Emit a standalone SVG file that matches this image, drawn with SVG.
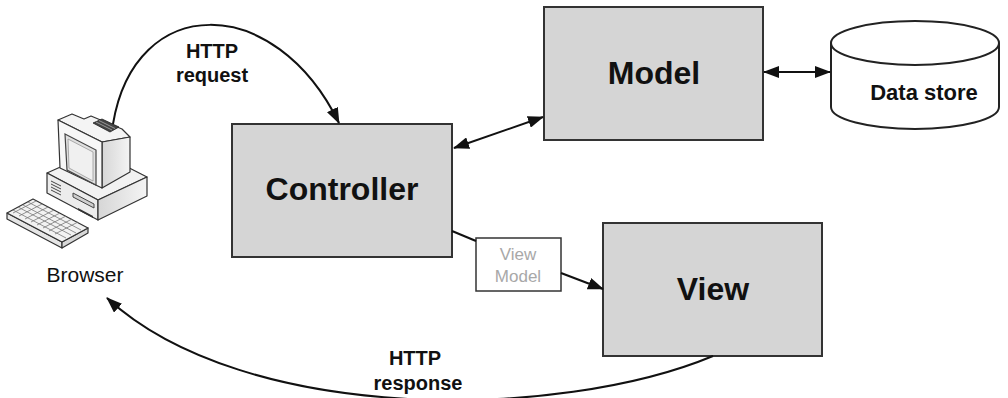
<svg xmlns="http://www.w3.org/2000/svg" width="1008" height="398" viewBox="0 0 1008 398">
  <defs>
    <style>
      .box { fill: #d5d5d5; stroke: #333; stroke-width: 2; }
      .label { font-family: "Liberation Sans", Arial, sans-serif; font-weight: bold; fill: #111; text-anchor: middle; }
      .big { font-size: 32px; }
      .mid { font-size: 20px; }
      .conn { fill: none; stroke: #111; stroke-width: 2; }
      .pc { stroke: #333; stroke-width: 1.2; stroke-linejoin: round; }
    </style>
    <marker id="arrow" viewBox="0 0 16 12" refX="15" refY="6" markerWidth="16" markerHeight="12" markerUnits="userSpaceOnUse" orient="auto-start-reverse">
      <path d="M0,0 L16,6 L0,12 z" fill="#111"/>
    </marker>
    <linearGradient id="side" x1="0" y1="0" x2="1" y2="0">
      <stop offset="0" stop-color="#d6d6d6"/>
      <stop offset="1" stop-color="#f4f4f4"/>
    </linearGradient>
  </defs>

  <rect width="1008" height="398" fill="#ffffff"/>

  <!-- Browser: desktop computer icon -->
  <g id="browser">
    <!-- system case -->
    <polygon class="pc" points="47,173 96,151 147,177 98,200" fill="#f2f2f2"/>
    <polygon class="pc" points="47,173 98,200 98,220 47,193" fill="#ececec"/>
    <polygon class="pc" points="98,200 147,177 147,196 98,220" fill="url(#side)"/>
    <g stroke="#444" stroke-width="1">
      <line x1="51" y1="181" x2="61" y2="186"/>
      <line x1="51" y1="184" x2="61" y2="189"/>
      <line x1="51" y1="187" x2="61" y2="192"/>
      <line x1="51" y1="190" x2="61" y2="195"/>
    </g>
    <polygon points="73,193 94,204 94,208 73,197" fill="#cfcfcf" stroke="#444" stroke-width="1"/>
    <polygon points="78,208 93,216 93,218 78,210" fill="#333"/>
    <!-- monitor -->
    <polygon class="pc" points="58,120 72,114 84,119 91,116 122,129 130,137 102,142" fill="#f4f4f4"/>
    <polygon class="pc" points="102,142 130,137 130,172 102,188" fill="url(#side)"/>
    <polygon class="pc" points="58,120 102,142 102,188 60,168" fill="#f7f7f7"/>
    <polygon points="65,134 96,150 96,185 67,170" fill="#e0e0e0" stroke="#444" stroke-width="1.2"/>
    <polygon points="68,139 93,152 93,181 69,168" fill="#f0f0f0" stroke="#999" stroke-width="0.8"/>
    <!-- top vent -->
    <polygon points="93,123 102,119 119,127 110,132" fill="#444" stroke="#222" stroke-width="0.8"/>
    <g stroke="#bbb" stroke-width="0.7">
      <line x1="96" y1="122" x2="112" y2="130"/>
      <line x1="99" y1="120.5" x2="115" y2="128.5"/>
    </g>
    <!-- keyboard -->
    <polygon class="pc" points="7,213 62,242 62,248 7,219" fill="#e6e6e6"/>
    <polygon class="pc" points="62,242 88,228 88,233 62,248" fill="#d8d8d8"/>
    <polygon class="pc" points="7,213 33,199 88,228 62,242" fill="#f2f2f2"/>
    <g stroke="#777" stroke-width="0.8">
      <line x1="13" y1="213" x2="36" y2="201"/>
      <line x1="19" y1="216" x2="42" y2="204"/>
      <line x1="25" y1="219" x2="48" y2="207"/>
      <line x1="31" y1="222" x2="54" y2="210"/>
      <line x1="37" y1="225" x2="60" y2="213"/>
      <line x1="43" y1="228" x2="66" y2="216"/>
      <line x1="49" y1="231" x2="72" y2="219"/>
      <line x1="55" y1="234" x2="78" y2="222"/>
      <line x1="13" y1="210" x2="66" y2="238"/>
      <line x1="18" y1="207" x2="71" y2="235"/>
      <line x1="23" y1="205" x2="76" y2="233"/>
      <line x1="28" y1="202" x2="81" y2="230"/>
    </g>
    <text x="85" y="282" font-family="Liberation Sans, Arial, sans-serif" font-size="21" fill="#111" text-anchor="middle">Browser</text>
  </g>

  <!-- Controller -->
  <g id="controller">
    <rect class="box" x="232" y="124" width="220" height="133"/>
    <text class="label big" x="342" y="200">Controller</text>
  </g>

  <!-- Model -->
  <g id="model">
    <rect class="box" x="544" y="7" width="219" height="133"/>
    <text class="label big" x="654" y="84">Model</text>
  </g>

  <!-- View -->
  <g id="view">
    <rect class="box" x="603" y="223" width="219" height="133"/>
    <text class="label big" x="713" y="300">View</text>
  </g>

  <!-- View model -->
  <g id="view-model">
    <rect x="476" y="238" width="85" height="53" fill="#ffffff" stroke="#333" stroke-width="1.5"/>
    <text x="518" y="260" font-family="Liberation Sans, Arial, sans-serif" font-size="17" fill="#a8a8a8" text-anchor="middle">View</text>
    <text x="518" y="282" font-family="Liberation Sans, Arial, sans-serif" font-size="17" fill="#a8a8a8" text-anchor="middle">Model</text>
  </g>

  <!-- Data store -->
  <g id="data-store">
    <path d="M831,43 L831,107 A84,22 0 0 0 999,107 L999,43" fill="#ffffff" stroke="#222" stroke-width="2"/>
    <ellipse cx="915" cy="43" rx="84" ry="22" fill="#ffffff" stroke="#222" stroke-width="2"/>
    <text class="label" x="924" y="100" font-size="22">Data store</text>
  </g>

  <!-- Connectors -->
  <g id="connectors">
    <path class="conn" d="M113,124 C135,-8 275,-8 339,123" marker-end="url(#arrow)"/>
    <line class="conn" x1="454" y1="148" x2="543" y2="117" marker-start="url(#arrow)" marker-end="url(#arrow)"/>
    <line class="conn" x1="764" y1="72" x2="830" y2="72" marker-start="url(#arrow)" marker-end="url(#arrow)"/>
    <line class="conn" x1="452" y1="231" x2="476" y2="241"/>
    <line class="conn" x1="561" y1="273" x2="603" y2="289" marker-end="url(#arrow)"/>
    <path class="conn" d="M713,356 C560,420 245,425 107,298" marker-end="url(#arrow)"/>
  </g>

  <!-- Connector labels -->
  <g id="connector-labels">
    <text class="label mid" x="212" y="58">HTTP</text>
    <text class="label mid" x="212" y="82">request</text>
    <text class="label mid" x="415" y="365">HTTP</text>
    <text class="label mid" x="418" y="390">response</text>
  </g>
</svg>
